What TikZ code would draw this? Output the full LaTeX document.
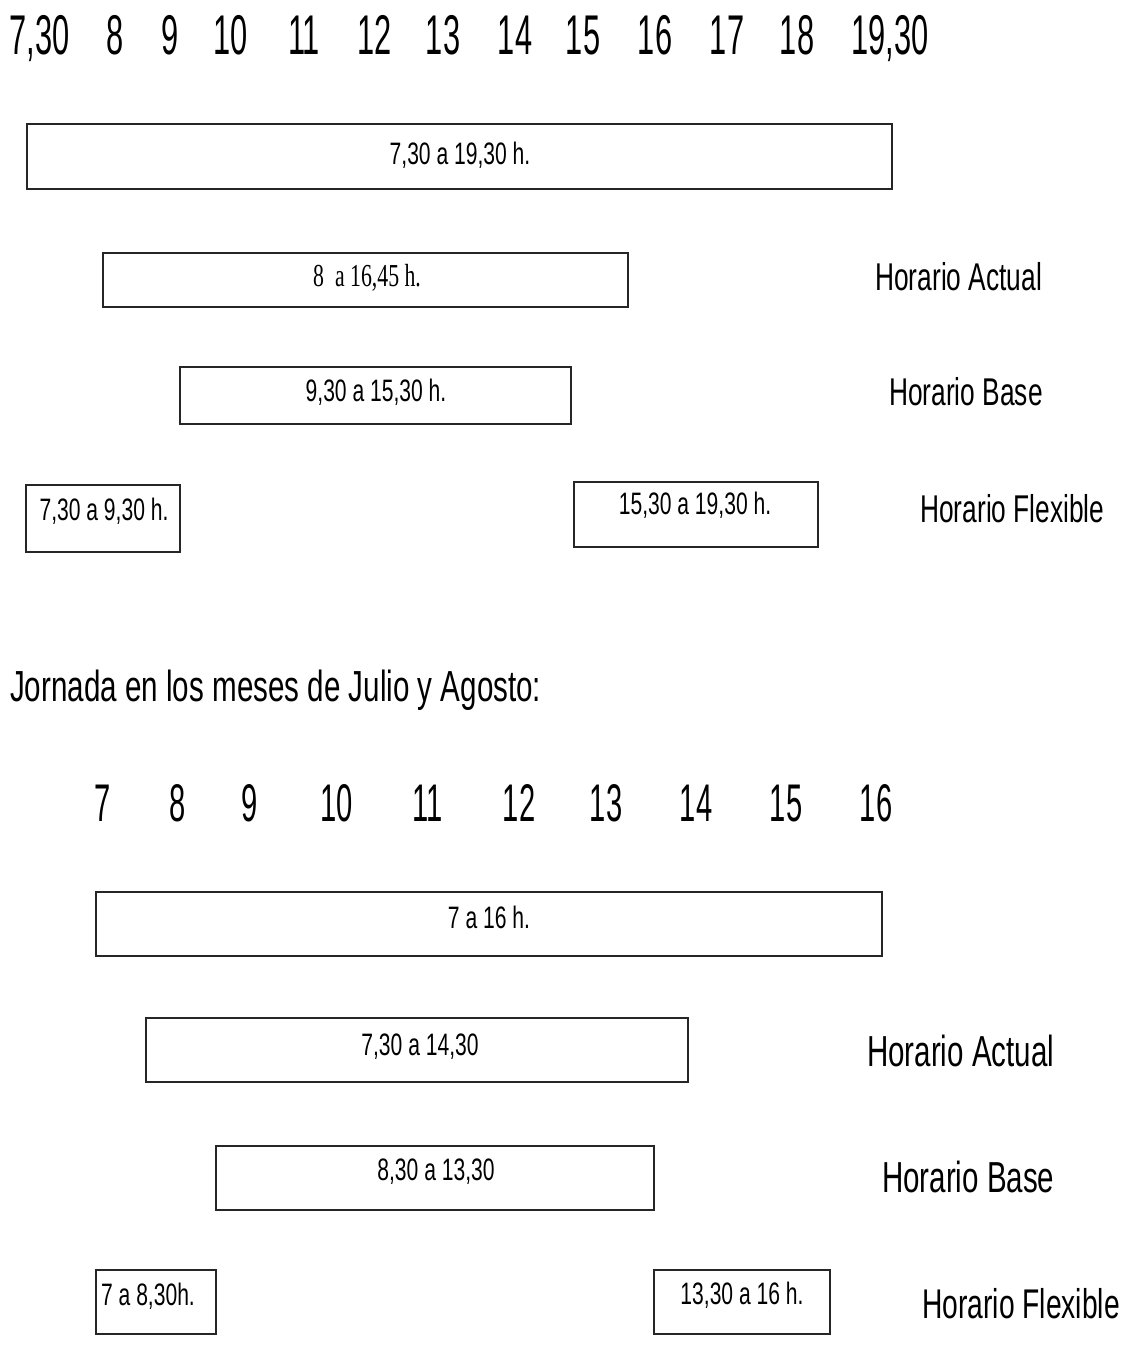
\documentclass[tikz,border=0pt]{standalone}
\usepackage{fontspec}
\setmainfont{Liberation Sans}
\newfontfamily\axisfont{Liberation Sans}[FakeStretch=0.55]
\newfontfamily\narrowfont{Liberation Sans}[FakeStretch=0.68]
\newfontfamily\narrowserif{Liberation Serif}[FakeStretch=0.68]
\tikzset{
  axislbl/.style={anchor=base, inner sep=0pt, font=\axisfont\fontsize{56}{56}\selectfont},
  axislblb/.style={anchor=base, inner sep=0pt, font=\axisfont\fontsize{53}{53}\selectfont},
  slot/.style={draw=black!85, line width=1.4pt},
  slotlbl/.style={anchor=base, inner sep=0pt, font=\narrowfont\fontsize{31}{31}\selectfont},
  slotlblserif/.style={anchor=base, inner sep=0pt, font=\narrowserif\fontsize{32}{32}\selectfont},
  rowlbl/.style={anchor=base west, inner sep=0pt, font=\narrowfont\fontsize{38.7}{40}\selectfont},
  rowlblb/.style={anchor=base west, inner sep=0pt, font=\narrowfont\fontsize{43.4}{45}\selectfont},
  heading/.style={anchor=base west, inner sep=0pt, font=\narrowfont\fontsize{43.5}{45}\selectfont}
}
\begin{document}
\begin{tikzpicture}[x=1pt,y=-1pt]
\useasboundingbox[fill=white] (0,0) rectangle (1120,1368);

% ---------- top axis ----------
\node[axislbl] (t730) at (39.5,54) {7,30};
\node[axislbl] (t8)  at (115,54) {8};
\node[axislbl] (t9)  at (170,54) {9};
\node[axislbl] (t10) at (231,54) {10};
\node[axislbl] (t11) at (304,54) {11};
\node[axislbl] (t12) at (375,54) {12};
\node[axislbl] (t13) at (443,54) {13};
\node[axislbl] (t14) at (515,54) {14};
\node[axislbl] (t15) at (583,54) {15};
\node[axislbl] (t16) at (655,54) {16};
\node[axislbl] (t17) at (727,54) {17};
\node[axislbl] (t18) at (797,54) {18};
\node[axislbl] (t1930) at (890,54) {19,30};

% ---------- top boxes ----------
\draw[slot] (27,124) rectangle (892,189);
\node[slotlbl] (l1) at (460,164) {7,30 a 19,30 h.};

\draw[slot] (103,253) rectangle (628,307);
\node[slotlblserif] (l2) at (367,286) {8\hspace{0.35em}a 16,45 h.};
\node[rowlbl] (ra1) at (875,290) {Horario Actual};

\draw[slot] (180,367) rectangle (571,424);
\node[slotlbl] (l3) at (376,401) {9,30 a 15,30 h.};
\node[rowlbl] (rb1) at (889,405) {Horario Base};

\draw[slot] (26,485) rectangle (180,552);
\node[slotlbl] (l4) at (104,520) {7,30 a 9,30 h.};
\draw[slot] (574,482) rectangle (818,547);
\node[slotlbl] (l5) at (695,514) {15,30 a 19,30 h.};
\node[rowlbl] (rf1) at (920,522) {Horario Flexible};

% ---------- heading ----------
\node[heading] (hd) at (10,701) {Jornada en los meses de Julio y Agosto:};

% ---------- bottom axis ----------
\node[axislblb] (b7)  at (103,821) {7};
\node[axislblb] (b8)  at (178,821) {8};
\node[axislblb] (b9)  at (250,821) {9};
\node[axislblb] (b10) at (337,821) {10};
\node[axislblb] (b11) at (428,821) {11};
\node[axislblb] (b12) at (519,821) {12};
\node[axislblb] (b13) at (606,821) {13};
\node[axislblb] (b14) at (696,821) {14};
\node[axislblb] (b15) at (786,821) {15};
\node[axislblb] (b16) at (876,821) {16};

% ---------- bottom boxes ----------
\draw[slot] (96,892) rectangle (882,956);
\node[slotlbl] (m1) at (489,928) {7 a 16 h.};

\draw[slot] (146,1018) rectangle (688,1082);
\node[slotlbl] (m2) at (420,1055) {7,30 a 14,30};
\node[rowlblb] (ra2) at (867,1066) {Horario Actual};

\draw[slot] (216,1146) rectangle (654,1210);
\node[slotlbl] (m3) at (436,1180) {8,30 a 13,30};
\node[rowlblb] (rb2) at (882,1192) {Horario Base};

\draw[slot] (96,1270) rectangle (216,1334);
\node[slotlbl] (m4) at (148,1305) {7 a 8,30h.};
\draw[slot] (654,1270) rectangle (830,1334);
\node[slotlbl] (m5) at (742,1304) {13,30 a 16 h.};
\node[rowlblb, font=\narrowfont\fontsize{41.5}{43}\selectfont] (rf2) at (922,1318) {Horario Flexible};
\end{tikzpicture}
\end{document}
